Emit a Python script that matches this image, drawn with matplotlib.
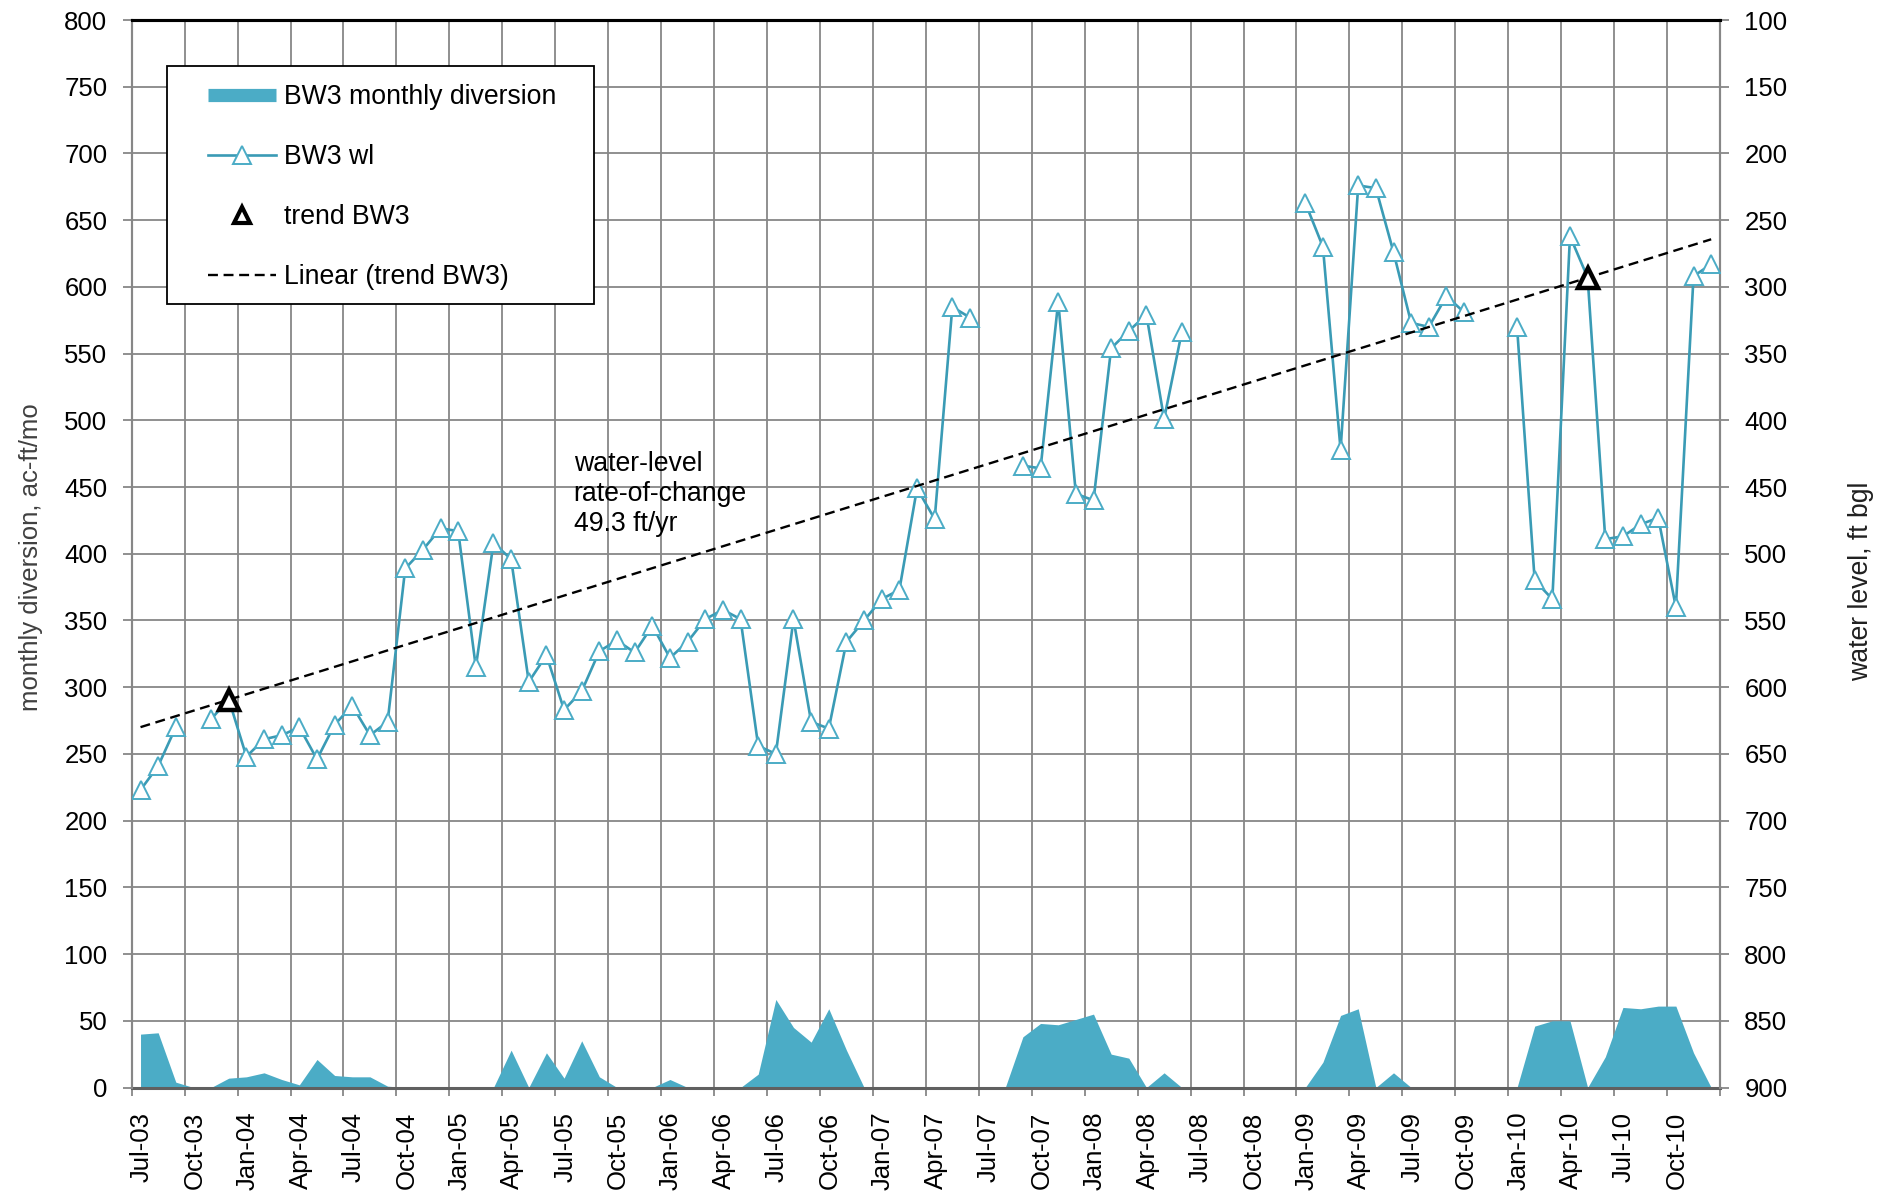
import numpy as np
import matplotlib
matplotlib.use('Agg')
import matplotlib.pyplot as plt
from matplotlib.lines import Line2D
from matplotlib.patches import Rectangle
import matplotlib.transforms as mtransforms

plt.rcParams['font.family'] = ['Liberation Sans', 'DejaVu Sans']

# ---------------- data (monthly, Jul-03 .. Dec-10) ----------------
tick_labels = ['Jul-03', 'Oct-03', 'Jan-04', 'Apr-04', 'Jul-04', 'Oct-04',
               'Jan-05', 'Apr-05', 'Jul-05', 'Oct-05', 'Jan-06', 'Apr-06',
               'Jul-06', 'Oct-06', 'Jan-07', 'Apr-07', 'Jul-07', 'Oct-07',
               'Jan-08', 'Apr-08', 'Jul-08', 'Oct-08', 'Jan-09', 'Apr-09',
               'Jul-09', 'Oct-09', 'Jan-10', 'Apr-10', 'Jul-10', 'Oct-10']

# BW3 monthly diversion, ac-ft/mo
diversion = [40, 41, 4, 0, 0, 7, 8, 11, 6, 2, 21, 9,
             8, 8, 1, 0, 0, 0, 0, 0, 0, 28, 0, 26,
             7, 35, 8, 0, 0, 0, 6, 0, 0, 0, 0, 10,
             66, 45, 34, 59, 28, 0, 0, 0, 0, 0, 0, 0,
             0, 0, 38, 48, 47, 51, 55, 25, 22, 0, 11, 0,
             0, 0, 0, 0, 0, 0, 0, 19, 54, 59, 0, 11,
             0, 0, 0, 0, 0, 0, 0, 46, 50, 50, 0, 23,
             60, 59, 61, 61, 26, 0]

nan = np.nan
# BW3 water level, ft bgl
water_level = [677, 659, 630, nan, 624, 609, 652, 639, 636, 630, 654, 628,
               614, 636, 626, 511, 497, 481, 483, 585, 492, 504, 596, 576,
               617, 603, 573, 565, 574, 554, 578, 566, 549, 542, 549, 644,
               650, 549, 626, 631, 566, 550, 534, 527, 451, 474, 315, 323,
               nan, nan, 434, 436, 311, 455, 460, 346, 333, 321, 399, 334,
               nan, nan, nan, nan, nan, nan, 237, 270, 422, 224, 226, 274,
               327, 330, 307, 319, nan, nan, 330, 520, 534, 262, 293, 489,
               487, 478, 473, 540, 292, 283]

# trend BW3 points (month index from Jul-03, ft bgl)
trend_month = [5, 82]
trend_level = [609.4, 293.1]

rate_text = 'water-level\nrate-of-change\n49.3 ft/yr'

# ---------------- styling ----------------
TEAL = '#4BACC6'
TEAL_LINE = '#3A9BB5'
GRID = '#878787'
FS = 18.5
FS_BIG = 19.2

fig = plt.figure(figsize=(18.83, 11.96), dpi=100)
L, R, B, T = 131.7 / 1883, 1720 / 1883, 1 - 1087.5 / 1196, 1 - 20 / 1196
ax = fig.add_axes([L, B, R - L, T - B])
ax2 = ax.twinx()

x = np.arange(len(diversion)) + 0.5

# area (primary axis)
ax.fill_between(x, 0, diversion, color=TEAL, lw=0, zorder=2)
ax.set_ylim(0, 800)
ax.set_yticks(np.arange(0, 801, 50))
ax.set_xlim(0, 90)
ax.set_xticks(np.arange(0, 91, 3))
ax.set_xticklabels(tick_labels + [''], rotation=90, fontsize=FS)
ax.grid(True, color=GRID, lw=1.3, zorder=0)
ax.set_axisbelow(True)

# water level (secondary axis, inverted)
ax2.plot(x, water_level, color=TEAL_LINE, lw=1.9, marker='^', ms=13,
         mfc='white', mec=TEAL, mew=1.4, zorder=3)
ax2.plot(np.array(trend_month) + 0.5, trend_level, ls='none', marker='^',
         ms=15, mfc='white', mec='black', mew=3.2, zorder=5)
coef = np.polyfit(np.array(trend_month) + 0.5, trend_level, 1)
xt = np.array([x[0], x[-1]])
ax2.plot(xt, np.polyval(coef, xt), color='black', lw=1.7,
         dashes=(4.2, 2.4), zorder=4)
ax2.set_ylim(900, 100)
ax2.set_yticks(np.arange(100, 901, 50))

for a in (ax, ax2):
    a.tick_params(axis='y', direction='out', length=6.5, width=1.3,
                  color=GRID, pad=11, labelsize=FS)
    for s in ('left', 'right', 'bottom'):
        a.spines[s].set_color(GRID)
        a.spines[s].set_linewidth(1.5)
    a.spines['top'].set_color('black')
    a.spines['top'].set_linewidth(2.2)
ax.spines['bottom'].set_color('#606060')
ax.spines['bottom'].set_linewidth(2.2)
ax2.spines['bottom'].set_visible(False)
ax.tick_params(axis='x', direction='out', length=5.5, width=1.3,
               color=GRID, pad=12, labelsize=FS)

# shift x tick labels slightly right like the original
off = mtransforms.ScaledTranslation(10 / 100, 0, fig.dpi_scale_trans)
for lab in ax.get_xticklabels():
    lab.set_transform(lab.get_transform() + off)

ax.set_ylabel('monthly diversion, ac-ft/mo', fontsize=FS, color='#404040')
ax.yaxis.set_label_coords(-0.0557, 0.497)
ax2.set_ylabel('water level, ft bgl', fontsize=FS_BIG, color='#202020')
ax2.yaxis.set_label_coords(1.0806, 0.474)

ax.text(0.2782, 0.596, rate_text, transform=ax.transAxes, va='top',
        ha='left', fontsize=FS_BIG, linespacing=1.2)

# legend with manual frame
frame = Rectangle((0.0222, 0.7340), 0.2688, 0.2230, transform=ax2.transAxes,
                  facecolor='white', edgecolor='black', lw=1.3, zorder=8)
ax2.add_patch(frame)
handles = [
    Line2D([0], [0], color=TEAL, lw=9.5, solid_capstyle='butt'),
    Line2D([0], [0], color=TEAL_LINE, lw=1.9, marker='^', ms=13, mfc='white',
           mec=TEAL, mew=1.4),
    Line2D([0], [0], ls='none', marker='^', ms=11, mfc='white', mec='black',
           mew=3.0),
    Line2D([0], [0], color='black', lw=1.7, dashes=(4.2, 2.4)),
]
labels = ['BW3 monthly diversion', 'BW3 wl', 'trend BW3', 'Linear (trend BW3)']
leg = ax2.legend(handles, labels, loc='upper left',
                 bbox_to_anchor=(0.0478, 0.9397), borderaxespad=0,
                 borderpad=0, frameon=False, fontsize=FS_BIG,
                 handlelength=2.58, handletextpad=0.3, labelspacing=1.27)
leg.set_zorder(10)

fig.savefig('out.png', dpi=100)
